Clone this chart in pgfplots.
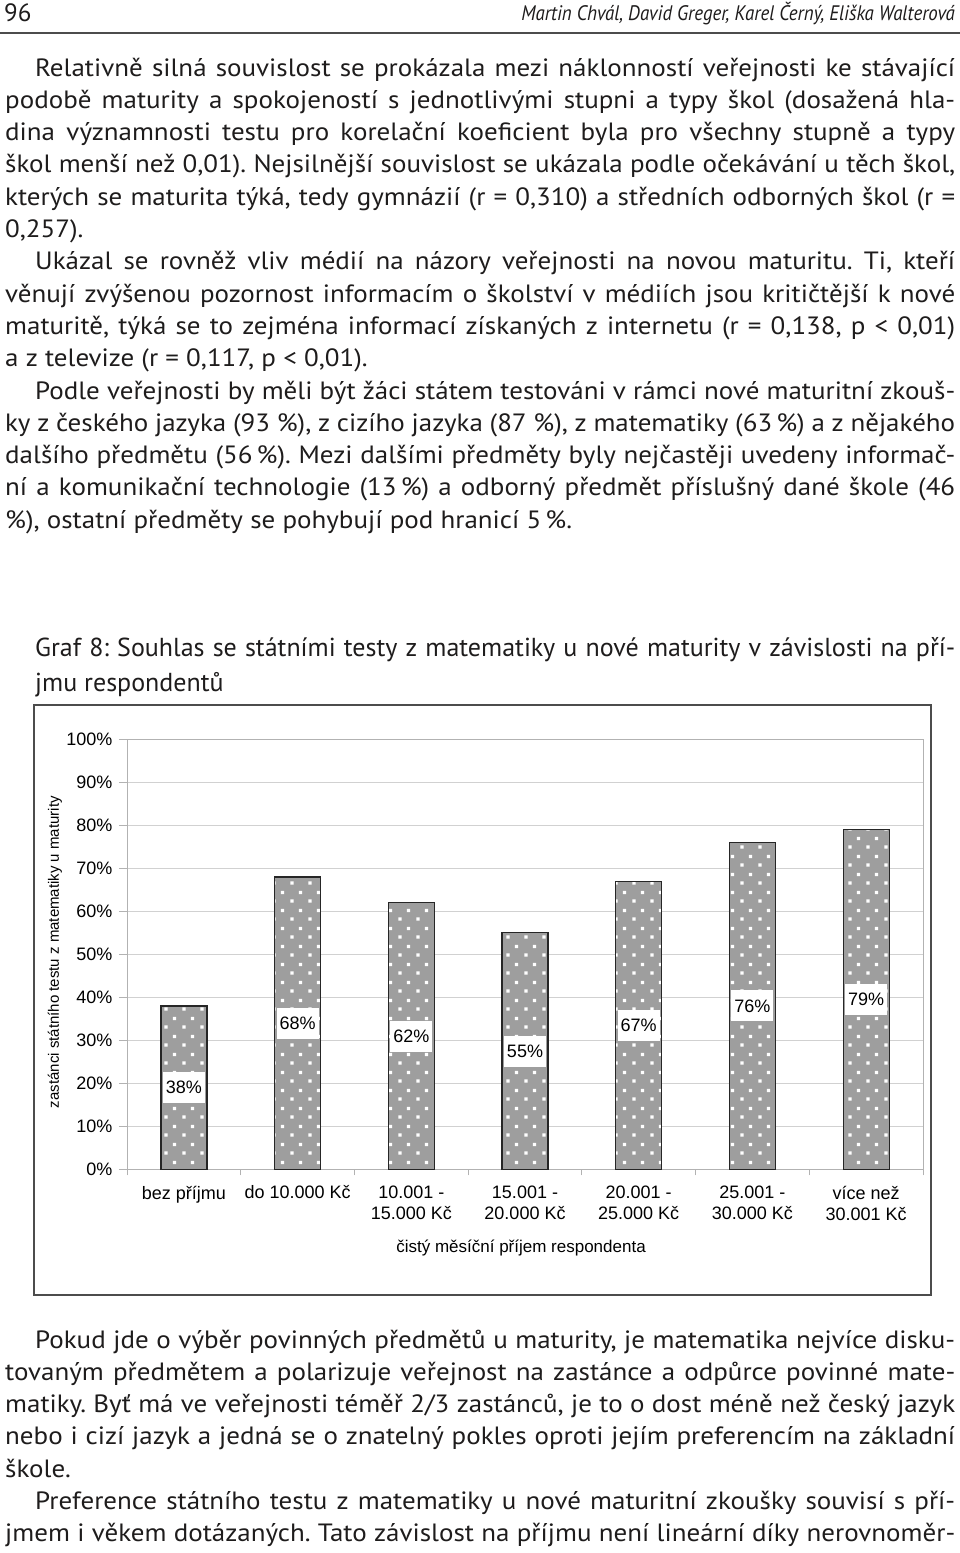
\documentclass[border=0pt]{standalone}
\usepackage{fontspec}
\setmainfont{PT Sans}
\newfontfamily\bodyfont[FakeStretch=1.08]{PT Sans}
\newfontfamily\arialfont{Liberation Sans}
\newfontfamily\hdrfont[FakeStretch=0.9]{PT Sans}
\usepackage{pgfplots}
\pgfplotsset{compat=1.18}
\usetikzlibrary{patterns.meta}
\pgfdeclarepattern{
  name=sqdots,
  type=uncolored,
  bottom left={\pgfpoint{0pt}{0pt}},
  top right={\pgfpoint{18pt}{18pt}},
  tile size={\pgfpoint{18pt}{18pt}},
  code={
    \pgfpathrectangle{\pgfpoint{2.5pt}{2.5pt}}{\pgfpoint{3.4pt}{3.4pt}}
    \pgfpathrectangle{\pgfpoint{11.5pt}{11.5pt}}{\pgfpoint{3.4pt}{3.4pt}}
    \pgfusepath{fill}
  }
}
\definecolor{barfill}{RGB}{158,158,158}
\definecolor{txt}{RGB}{30,28,28}
\newcommand\JL[2][950pt]{\hbox to #1{#2}}
\newcommand\RL[1]{\hbox{#1}}
\begin{document}
\frenchspacing
\begin{tikzpicture}[every node/.style={text=txt}]
\path[use as bounding box] (0,0) rectangle (960pt,-1553pt);
% header
\node[anchor=base west, inner sep=0, font=\fontsize{25}{28}\selectfont] at (4pt,-21pt) {96};
\node[anchor=base east, inner sep=0, font=\hdrfont\itshape\fontsize{21}{24}\selectfont] at (955pt,-20pt) {Martin Chvál, David Greger, Karel Černý, Eliška Walterová};
\draw[line width=2pt, black!70] (0,-33pt) -- (960pt,-33pt);
% body text
\node[anchor=base west, inner sep=0] at (5pt,-76pt) {\vtop{\bodyfont\fontsize{25}{32.3}\selectfont
\JL{\kern30pt Relativně silná souvislost se prokázala mezi náklonností veřejnosti ke stávající}
\JL{podobě maturity a spokojeností s jednotlivými stupni a typy škol (dosažená hla-}
\JL{dina významnosti testu pro korelační koeficient byla pro všechny stupně a typy}
\JL{škol menší než 0,01). Nejsilnější souvislost se ukázala podle očekávání u těch škol,}
\JL{kterých se maturita týká, tedy gymnázií (r = 0,310) a středních odborných škol (r =}
\RL{0,257).}
\JL{\kern30pt Ukázal se rovněž vliv médií na názory veřejnosti na novou maturitu. Ti, kteří}
\JL{věnují zvýšenou pozornost informacím o školství v médiích jsou kritičtější k nové}
\JL{maturitě, týká se to zejména informací získaných z internetu (r = 0,138, p < 0,01)}
\RL{a z televize (r = 0,117, p < 0,01).}
\JL{\kern30pt Podle veřejnosti by měli být žáci státem testováni v rámci nové maturitní zkouš-}
\JL{ky z českého jazyka (93 \%), z cizího jazyka (87 \%), z matematiky (63\,\%) a z nějakého}
\JL{dalšího předmětu (56\,\%). Mezi dalšími předměty byly nejčastěji uvedeny informač-}
\JL{ní a komunikační technologie (13\,\%) a odborný předmět příslušný dané škole (46}
\RL{\%), ostatní předměty se pohybují pod hranicí 5\,\%.}
}};
% caption
\node[anchor=base west, inner sep=0] at (35pt,-656pt) {\vtop{\fontsize{26}{35}\selectfont
\JL[920pt]{Graf 8: Souhlas se státními testy z matematiky u nové maturity v závislosti na pří-}
\RL{jmu respondentů}
}};
% bottom text
\node[anchor=base west, inner sep=0] at (5pt,-1348pt) {\vtop{\bodyfont\fontsize{25}{32.3}\selectfont
\JL{\kern30pt Pokud jde o výběr povinných předmětů u maturity, je matematika nejvíce disku-}
\JL{tovaným předmětem a polarizuje veřejnost na zastánce a odpůrce povinné mate-}
\JL{matiky. Byť má ve veřejnosti téměř 2/3 zastánců, je to o dost méně než český jazyk}
\JL{nebo i cizí jazyk a jedná se o znatelný pokles oproti jejím preferencím na základní}
\RL{škole.}
\JL{\kern30pt Preference státního testu z matematiky u nové maturitní zkoušky souvisí s pří-}
\JL{jmem i věkem dotázaných. Tato závislost na příjmu není lineární díky nerovnoměr-}
}};
% chart frame
\draw[line width=1.6pt, black!70] (34pt,-705pt) rectangle (931pt,-1295pt);
\begin{axis}[
  at={(127pt,-1169.3pt)}, anchor=south west,
  x=113.714pt, y=4.3pt,
  xmin=-0.5, xmax=6.5, ymin=0, ymax=100,
  axis line style={draw=black!30, line width=0.8pt},
  ymajorgrids, major grid style={draw=black!18, line width=0.9pt},
  tick align=outside,
  xtick pos=lower, ytick pos=lower,
  ytick={0,10,...,100},
  yticklabel={\pgfmathprintnumber{\tick}\%},
  /pgf/number format/assume math mode=true,
  major tick length=8pt,
  minor tick length=6pt,
  tick style={draw=black!30, line width=0.8pt},
  major x tick style={draw=none},
  xtick={0,...,6},
  minor xtick={-0.5,0.5,...,6.5},
  xticklabels={bez příjmu, do 10.000 Kč, {10.001 -\\15.000 Kč}, {15.001 -\\20.000 Kč}, {20.001 -\\25.000 Kč}, {25.001 -\\30.000 Kč}, {více než\\30.001 Kč}},
  ticklabel style={font=\arialfont\fontsize{18}{21.5}\selectfont, text=black},
  xticklabel style={align=center, anchor=north, yshift=-5pt},
  yticklabel style={xshift=-3pt},
  xlabel={čistý měsíční příjem respondenta},
  ylabel={zastánci státního testu z matematiky u maturity},
  every axis x label/.style={at={(axis description cs:0.495,-0.182)}, anchor=center, font=\arialfont\fontsize{17}{20}\selectfont, text=black},
  every axis y label/.style={at={(axis description cs:-0.0905,0.505)}, rotate=90, anchor=center, font=\arialfont\fontsize{15}{18}\selectfont, text=black},
]
\addplot[ybar, bar width=46pt, fill=barfill, draw=black!85, line width=1.3pt,
  postaction={pattern=sqdots, pattern color=white},
  nodes near coords={\pgfmathprintnumber{\pgfplotspointmeta}\%},
  visualization depends on={y \as \rawy},
  every node near coord/.append style={font=\arialfont\fontsize{18}{20}\selectfont, text=black, fill=white, inner sep=0pt, minimum width=42pt, minimum height=31pt, anchor=center, yshift={-2.15pt*\rawy}},
] coordinates {(0,38) (1,68) (2,62) (3,55) (4,67) (5,76) (6,79)};
\end{axis}
\end{tikzpicture}
\end{document}
